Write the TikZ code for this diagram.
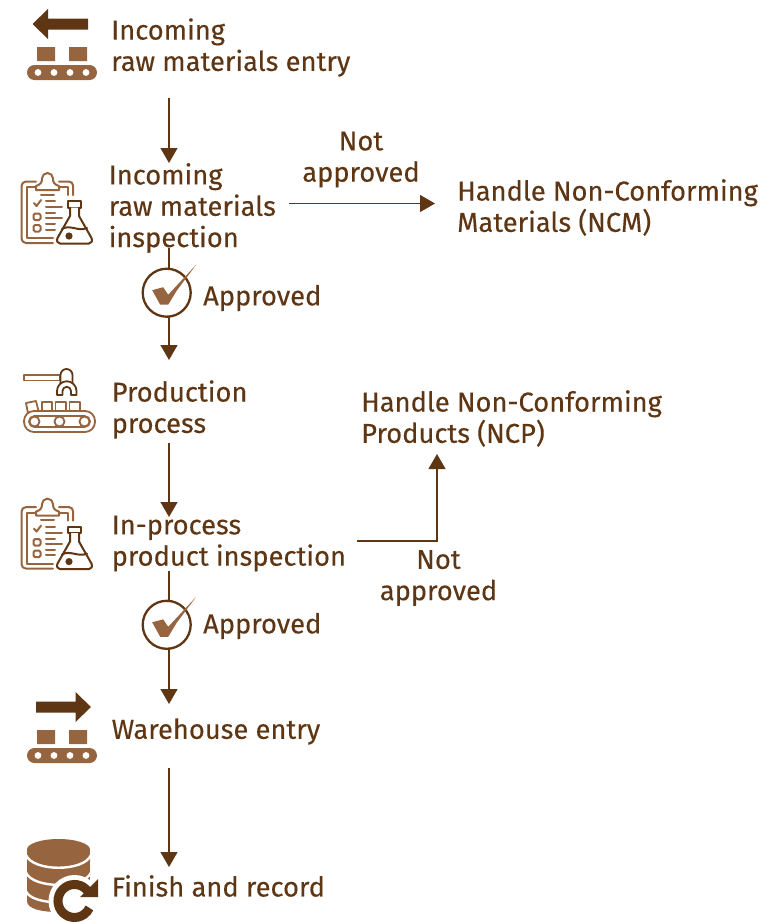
\documentclass[tikz,border=0pt]{standalone}
\usepackage{fontspec}
\setmainfont[FakeBold=0.25]{Fira Sans}
\usetikzlibrary{arrows.meta}
\definecolor{dk}{HTML}{5E3614}
\definecolor{lt}{HTML}{966540}
\tikzset{
 lab/.style={anchor=west,align=left,text=dk,font=\fontsize{27.3}{31.3}\selectfont,inner sep=0pt},
 flow/.style={draw=dk,line width=1.2pt,-{Triangle[length=15pt,width=17pt,fill=dk]}},
 plainline/.style={draw=dk,line width=1.2pt},
 ltline/.style={draw=lt,line width=2pt,line cap=round,line join=round},
 dkline/.style={draw=dk,line width=2pt,line cap=round,line join=round},
 pics/belt/.style={code={
   \fill[lt] (37,47) rectangle (55,61) (69,47) rectangle (87,61);
   \fill[lt,rounded corners=7.5pt] (27,65) rectangle (97,80);
   \foreach \x in {38,54,70,86}{\fill[white] (\x,72.5) circle[radius=3.4];}
 }},
 pics/clip/.style={code={
   \draw[ltline] (53,243) -- (26,243) arc[start angle=270,end angle=180,radius=4.5pt] -- (21.5,186) arc[start angle=180,end angle=90,radius=4.5pt] -- (36,181.5);
   \draw[ltline] (59,181.5) -- (69,181.5) arc[start angle=90,end angle=0,radius=4pt] -- (73,195);
   \draw[ltline] (53,238) -- (27,238) -- (27,187) -- (36,187);
   \draw[ltline] (59,187) -- (68,187) -- (68,195);
   \draw[ltline] (36,190) -- (36,186) .. controls (41,184.5) and (42,182) .. (42,178.5) arc[start angle=180,end angle=0,radius=5.5pt] .. controls (53,182) and (54,184.5) .. (59,186) -- (59,190) -- cycle;
   \draw[ltline] (41,194.5) -- (54,194.5) (46,201) -- (55,201) (46,207) -- (62,207) (46,218) -- (62,218) (46,224) -- (55,224) (46,229.5) -- (55,229.5) (46,213) -- (55,213);
   \draw[ltline] (34,203) -- (36.5,206) -- (41,200);
   \draw[ltline,rounded corners=1.5pt] (33.5,213.5) rectangle (40.5,220);
   \draw[ltline,rounded corners=1.5pt] (33.5,225) rectangle (40.5,231.5);
   \draw[dkline] (68,201) rectangle (81,207.5);
   \draw[dkline,fill=white] (70,207.5) -- (70,216) -- (57.5,238) .. controls (56,241) and (58,243.5) .. (60,243.5) -- (89,243.5) .. controls (91,243.5) and (93,241) .. (91.5,238) -- (79,216) -- (79,207.5);
   \draw[dkline] (62,229) .. controls (70,224) and (78,232) .. (87,228);
   \fill[dk] (69,236) circle[radius=3.6];
 }},
 pics/tick/.style={code={
   \draw[dk,line width=2.3pt] (0,0) circle[radius=24];
   \fill[lt] (-14.5,-2.5) -- (-3.5,-5.5) -- (1.5,2) -- (29.5,-28) -- (10,-2) -- (1.5,12) -- (-6.5,12) -- cycle;
 }},
}
\begin{document}
\begin{tikzpicture}[x=1pt,y=-1pt]
\useasboundingbox (0,0) rectangle (763,922);
% icon 1
\fill[dk] (32.5,24) -- (48,9) -- (48,18.5) -- (88,18.5) -- (88,29.5) -- (48,29.5) -- (48,39) -- cycle;
\pic {belt};
% icon 2 and 4
\pic {clip};
\pic[yshift=-325.6pt] {clip};
% robot
\draw[ltline,line width=1.8pt] (24,375) rectangle (60,380.5);
\draw[dk,line width=1.8pt,line join=round] (60.5,383) -- (60.5,375) arc[start angle=180,end angle=0,radius=6pt] -- (72.5,383);
\draw[dk,line width=1.8pt,line join=round,fill=white] (57,395) -- (57,391) arc[start angle=180,end angle=0,radius=9.75pt] -- (76.5,395) -- (71,395) -- (71,391) arc[start angle=0,end angle=180,radius=4.25pt] -- (62.5,395) -- cycle;
\draw[ltline,line width=1.8pt] (26,403) -- (36,401) -- (38.5,411) -- (28,413) -- cycle;
\draw[ltline,line width=1.8pt] (42,402) rectangle (52,411) (55.5,402) rectangle (66,411) (69.5,402) rectangle (80,411);
\draw[ltline,line width=1.8pt,fill=white,rounded corners=10pt] (24,411) rectangle (95,432);
\draw[ltline,line width=1.8pt,rounded corners=5.5pt] (29,416) rectangle (90,427);
\draw[ltline,line width=1.8pt,fill=white] (34.5,421.5) circle[radius=5] (59.5,421.5) circle[radius=5] (84.5,421.5) circle[radius=5];
% ticks
\pic at (166.7,292.7) {tick};
\pic at (166.7,624.8) {tick};
% warehouse
\fill[dk] (91,707) -- (75.5,692) -- (75.5,701.5) -- (36,701.5) -- (36,712.5) -- (75.5,712.5) -- (75.5,722) -- cycle;
\pic[yshift=-683pt] {belt};
% database
\fill[lt] (27,856) -- (27,901) .. controls (27,909) and (42,912) .. (58,912) -- (90,912) -- (90,856) -- cycle;
\fill[lt] (58.5,849.5) ellipse[x radius=31.5,y radius=10.5];
\fill[lt] (27,850) rectangle (90,858);
\draw[white,line width=2.4pt] (26,855) .. controls (33,872) and (84,872) .. (91,855);
\draw[white,line width=2.4pt] (26,872.5) .. controls (33,889) and (84,889) .. (91,872.5);
\draw[white,line width=2.4pt] (26,891.5) .. controls (33,906) and (84,906) .. (91,891.5);
\fill[white] (74.5,901) circle[radius=26];
\fill[white] (90,862) rectangle (100,922);
\draw[dk,line width=9pt] (88,891.5) arc[start angle=35,end angle=335,radius=16.5pt];
\fill[dk] (98,879) -- (98,897) -- (80,897) -- cycle;
% labels
\node[lab] (t1) at (111,47.5) {Incoming\\raw materials entry};
\node[lab] (t2) at (108.5,208) {Incoming\\raw materials\\inspection};
\node[lab] (t3) at (457,207.5) {Handle Non-Conforming\\Materials (NCM)};
\node[lab,align=center,anchor=center] (t4) at (361,159.5) {Not\\approved};
\node[lab] (t5) at (203,298) {Approved};
\node[lab] (t6) at (111.5,409.5) {Production\\process};
\node[lab] (t7) at (361,418.5) {Handle Non-Conforming\\Products (NCP)};
\node[lab] (t8) at (111.5,543.5) {In-process\\product inspection};
\node[lab,align=center,anchor=center] (t9) at (438.5,578) {Not\\approved};
\node[lab] (t10) at (203,626) {Approved};
\node[lab] (t11) at (111.5,731.5) {Warehouse entry};
\node[lab] (t12) at (111.5,886) {Finish and record};
% connector ends
\coordinate (a1) at (169,98); \coordinate (a2) at (169,163);
\coordinate (b1) at (289,203.5); \coordinate (b2) at (435,203.5);
\coordinate (c1) at (169,248); \coordinate (c2) at (169,268.7);
\coordinate (d1) at (169,316.7); \coordinate (d2) at (169,360);
\coordinate (e1) at (169,443); \coordinate (e2) at (169,517);
\coordinate (f1) at (357,541); \coordinate (f2) at (437,541); \coordinate (f3) at (437,454);
\coordinate (g1) at (169,571); \coordinate (g2) at (169,600.8);
\coordinate (h1) at (169,648.8); \coordinate (h2) at (169,704);
\coordinate (i1) at (169,768); \coordinate (i2) at (169,867);
\draw[flow] (a1) -- (a2);
\draw[flow] (b1) -- (b2);
\draw[plainline] (c1) -- (c2);
\draw[flow] (d1) -- (d2);
\draw[flow] (e1) -- (e2);
\draw[flow] (f1) -- (f2) -- (f3);
\draw[plainline] (g1) -- (g2);
\draw[flow] (h1) -- (h2);
\draw[flow] (i1) -- (i2);
\end{tikzpicture}
\end{document}
